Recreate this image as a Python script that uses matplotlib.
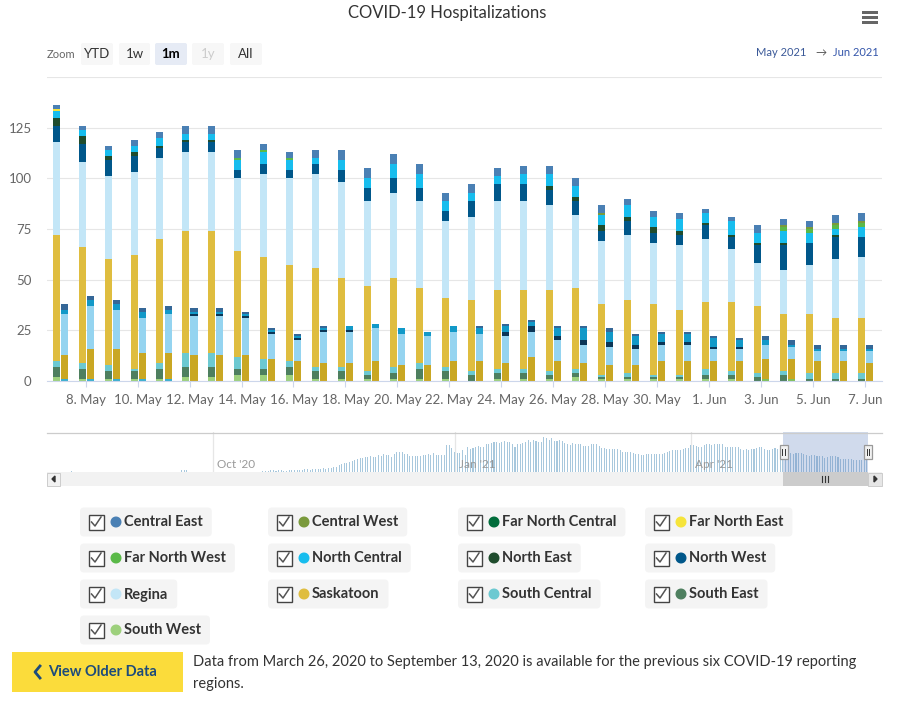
import numpy as np
import pandas as pd
import matplotlib
matplotlib.use('Agg')
import matplotlib.pyplot as plt
import matplotlib.dates as mdates
from matplotlib.patches import Rectangle, FancyBboxPatch, Circle, Polygon

plt.rcParams['font.family'] = ['Lato', 'DejaVu Sans']

# ---- data: 7 May 2021 .. 7 Jun 2021, inpatients (tall stack) and ICU (short stack)
days = pd.date_range('2021-05-07', '2021-06-07', freq='D')

central_east      = [2,2,2,3,3,4,4,4,3,3,4, 5,5,5,5,4,4,4,4,4,4,4, 3,3,3,2,2,4,3,3,4,4]
central_west      = [0,0,0,0,0,0,0,0,0,0,0, 0,0,0,0,0,0,0,0,0,0,1, 0,0,0,0,0,0,1,1,1,1]
far_north_central = [0,0,0,0,0,0,0,0,0,0,0, 0,0,0,0,0,0,0,0,0,0,0, 0,0,0,0,0,0,0,0,0,0]
far_north_east    = [1,0,0,0,0,0,0,0,0,0,0, 0,0,0,0,0,0,0,0,0,0,0, 0,0,0,0,0,0,0,0,0,0]
far_north_west    = [0,0,0,0,0,0,0,1,1,1,0, 0,0,0,0,0,0,0,0,0,0,0, 0,0,0,0,0,0,2,2,2,2]
north_central     = [3,3,3,3,4,3,3,5,6,5,3, 5,5,7,7,5,4,4,5,6,5,5, 6,5,6,5,7,5,6,5,3,5]
north_east        = [4,4,2,2,1,1,1,0,0,0,0, 0,0,0,0,0,0,0,0,2,2,3, 2,3,2,1,1,1,1,0,1,0]
north_west        = [8,9,8,8,5,5,5,4,5,4,5, 6,6,7,6,5,8,8,8,7,7,5, 7,5,5,7,6,9,12,11,11,10]
regina            = [46,42,41,41,40,39,39,36,41,43,46, 47,42,42,43,38,41,44,44,42,36,31, 32,30,32,31,26,21,22,24,29,30]
saskatoon         = [62,57,52,56,61,60,60,52,50,47,49, 44,42,44,37,34,35,39,39,40,40,35, 36,35,32,33,34,33,28,29,27,27]
south_central     = [3,3,3,1,3,7,7,6,5,3,2, 2,2,3,3,2,2,2,2,2,2,1, 2,1,1,3,2,2,2,3,3,3]
south_east        = [5,5,4,4,5,5,5,3,3,4,4, 4,2,3,5,4,3,3,3,2,2,1, 1,1,1,2,2,2,3,1,1,1]
south_west        = [2,1,1,1,1,2,2,3,3,3,1, 1,1,1,1,1,0,1,1,1,2,1, 1,1,1,1,1,0,0,0,0,0]

central_east_icu  = [3,2,2,2,2,2,2,1,1,1,1, 0,0,0,0,0,1,1,1,1,1,2, 1,1,1,1,1,2,2,2,2,2]
north_central_icu = [2,3,3,3,2,1,1,1,1,1,1, 2,2,3,2,3,3,3,2,4,6,5, 4,4,4,4,3,2,1,1,1,1]
north_west_icu    = [0,0,0,0,0,1,1,1,1,1,1, 1,0,0,0,0,0,2,3,2,2,2, 2,1,1,1,1,0,0,0,0,0]
regina_icu        = [20,21,19,17,19,19,19,18,12,10,15, 15,16,15,14,14,13,13,12,10,9,9, 8,8,8,6,6,7,6,5,5,6]
saskatoon_icu     = [12,15,15,13,13,13,13,13,11,10,9, 9,10,8,8,10,10,9,12,10,9,8, 8,10,10,10,10,10,10,10,10,9]
south_central_icu = [1,1,1,1,1,0,0,0,0,0,0, 0,0,0,0,0,0,0,0,0,0,0, 0,0,0,0,0,0,0,0,0,0]
south_west_icu    = [0,0,0,0,0,0,0,0,0,0,0, 0,0,0,0,0,0,0,0,0,0,0, 0,0,0,0,0,1,1,0,0,0]

regions = ['Central East', 'Central West', 'Far North Central', 'Far North East',
           'Far North West', 'North Central', 'North East', 'North West',
           'Regina', 'Saskatoon', 'South Central', 'South East', 'South West']
inpatient = [central_east, central_west, far_north_central, far_north_east,
             far_north_west, north_central, north_east, north_west,
             regina, saskatoon, south_central, south_east, south_west]
icu = {'Central East': central_east_icu, 'North Central': north_central_icu,
       'North West': north_west_icu, 'Regina': regina_icu,
       'Saskatoon': saskatoon_icu, 'South Central': south_central_icu,
       'South West': south_west_icu}

colors = ['#4a80b4', '#7a9a3c', '#006c3a', '#f6e43a', '#5ab948', '#17bdee',
          '#1f4c2d', '#00578a', '#c3e6f7', '#dfbd3f', '#6cc9d1', '#4e7f5f', '#9dd07c']
colors_icu = ['#356797', '#667f31', '#00552e', '#d6c42e', '#4a9c3b', '#1299c8',
              '#173a22', '#0b3657', '#95d4f0', '#c9a723', '#3aaed0', '#3e6a4e', '#7fbf5c']

# navigator: daily totals, older part
nav_sparse_dates = ['2020-08-08', '2020-09-19', '2020-09-20', '2020-09-21']
nav_sparse = [11, 17, 17, 17]
nav_before = [11,11,11,14,14,11,14,17,11,11,17,17,20,20,14,17,22,25,20,22,28,22,28,31,25,34,36,39,45,
              56,64,73,78,84,92,101,109,115,118, 123,126,132,126,126,140,137,148,143,143,
              126,148,165,165,165,151,151,134,134,134, 134,134,140,140,148,140,157,143,143,143,
              143,227,227,202,165,160,160,182,146,207, 196,199,207,216,210,210,235,235,244,249,
              249,241,249,258,255,255,235,210,235,235, 244,249,266,249,266,258,249,249,294,286,
              266,283,258,258,266,258,241,235,227,244, 235,235,235,216,216,216,235,235,235,216,
              202,
              202,196,190,190,196,190,182,168,168,165, 165,157,151,151,143,143,148,151,151,151,
              151,151,151,160,165,176,182,182,185,185, 190,199,199,227,227,216,210,207,227,232,
              235,227,235,235,232,235,210,210,207,207, 210,210,193,185,190,185,193,190,199,207,
              207,193,185,185,190,199,190,190,185]

W, H = 924, 703
fig = plt.figure(figsize=(W / 100, H / 100), dpi=100)


def px_axes(x0, y0, x1, y1):
    return fig.add_axes([x0 / W, 1 - y1 / H, (x1 - x0) / W, (y1 - y0) / H])


# ---- main stacked columns
ax = px_axes(47, 77, 882, 381)
ax.set_facecolor('none')
x = np.arange(len(days))
bot_in = np.zeros(len(days))
bot_icu = np.zeros(len(days))
for i in reversed(range(len(regions))):
    vals = np.array(inpatient[i], dtype=float)
    ax.bar(x - 0.14, vals, 0.27, bottom=bot_in, color=colors[i], linewidth=0, zorder=3)
    bot_in += vals
    if regions[i] in icu:
        v2 = np.array(icu[regions[i]], dtype=float)
        ax.bar(x + 0.17, v2, 0.27, bottom=bot_icu, color=colors_icu[i], linewidth=0, zorder=3)
        bot_icu += v2

ax.set_xlim(-0.49, 31.66)
ax.set_ylim(0, 150)
ax.set_yticks([0, 25, 50, 75, 100, 125, 150])
ax.set_yticklabels(['0', '25', '50', '75', '100', '125', ''])
ax.yaxis.grid(True, color='#e6e6e6', linewidth=0.8)
ax.set_axisbelow(True)
for s in ['top', 'right', 'left']:
    ax.spines[s].set_visible(False)
ax.spines['bottom'].set_color('#ccd6eb')
ax.spines['bottom'].set_zorder(4)
tick_pos = x[1::2]
ax.set_xticks(tick_pos)
ax.set_xticklabels([f"{d.day}. {d.strftime('%b')}" for d in days[1::2]])
ax.tick_params(axis='y', length=0, pad=11, labelsize=9.5, labelcolor='#666666')
ax.tick_params(axis='x', length=4, width=0.8, color='#ccd6eb', pad=5,
               labelsize=9.5, labelcolor='#666666')

# ---- navigator
nav = px_axes(47, 432, 868, 472)
nav.axis('off')
nav_lo = mdates.date2num(pd.Timestamp('2020-07-29 19:00'))
nav_hi = mdates.date2num(pd.Timestamp('2021-06-07 10:00'))
nav.set_xlim(nav_lo, nav_hi)
nav.set_ylim(0, 336)
sel_total = np.array(bot_in) + np.array(bot_icu)
before_dates = pd.date_range(end='2021-05-06', periods=len(nav_before), freq='D')
nav_x = np.concatenate([mdates.date2num(pd.to_datetime(nav_sparse_dates)),
                        mdates.date2num(before_dates), mdates.date2num(days)])
nav_y = np.concatenate([nav_sparse, nav_before, sel_total])
nav.bar(nav_x, nav_y, 0.4, color='#a8c8dd', linewidth=0, zorder=3)
for d, lab in [('2020-10-01', "Oct '20"), ('2021-01-01', "Jan '21"), ('2021-04-01', "Apr '21")]:
    dn = mdates.date2num(pd.Timestamp(d))
    nav.axvline(dn, color='#e6e6e6', linewidth=0.9, zorder=1)
    nav.text(dn + 1.6, 67, lab, fontsize=8.5, color='#999999', va='center', zorder=5)
nav.axvspan(mdates.date2num(pd.Timestamp('2021-05-06 03:00')), nav_hi,
            color='#6685c2', alpha=0.3, linewidth=0, zorder=4)

# ---- overlay for page furniture
ov = fig.add_axes([0, 0, 1, 1])
ov.set_xlim(0, W)
ov.set_ylim(H, 0)
ov.axis('off')

ov.text(447, 13, 'COVID-19 Hospitalizations', ha='center', va='center', fontsize=12, color='#333333')
for yy in [11, 16, 21]:
    ov.add_patch(Rectangle((862, yy), 16, 3, color='#666666', linewidth=0))

# range selector
ov.text(47, 54, 'Zoom', fontsize=8, color='#666666', va='center')
btns = [('YTD', 81, 113), ('1w', 119, 150), ('1m', 155, 187), ('1y', 192, 224), ('All', 230, 262)]
for lab, x0, x1 in btns:
    fc = '#e6ebf5' if lab == '1m' else '#f7f7f7'
    ov.add_patch(FancyBboxPatch((x0, 43), x1 - x0, 22, boxstyle='round,pad=0,rounding_size=2',
                                fc=fc, ec='none'))
    tc = '#cccccc' if lab == '1y' else ('#000000' if lab == '1m' else '#333333')
    ov.text((x0 + x1) / 2, 54.5, lab, ha='center', va='center', fontsize=9.5, color=tc,
            fontweight='bold' if lab == '1m' else 'normal')
ov.text(806, 53, 'May 2021', ha='right', va='center', fontsize=8, color='#3b5998')
ov.text(821, 53, '→', ha='center', va='center', fontsize=8, color='#555555')
ov.text(879, 53, 'Jun 2021', ha='right', va='center', fontsize=8, color='#3355aa')

# navigator outline, handles, scrollbar
ov.plot([47, 882], [432.5, 432.5], color='#cccccc', linewidth=0.9)
for hx in [783.5, 868]:
    ov.add_patch(Rectangle((hx - 4, 445), 8, 14, fc='#f2f2f2', ec='#999999', linewidth=0.9))
    ov.plot([hx - 1.2, hx - 1.2], [449, 455], color='#333333', linewidth=0.7)
    ov.plot([hx + 1.2, hx + 1.2], [449, 455], color='#333333', linewidth=0.7)
ov.add_patch(Rectangle((47, 472), 835, 14, fc='#f2f2f2', ec='none'))
ov.add_patch(Rectangle((47, 472.5), 13, 13, fc='#f2f2f2', ec='#cccccc', linewidth=0.7))
ov.add_patch(Rectangle((783, 472), 85, 14, fc='#cccccc', ec='none'))
ov.add_patch(Rectangle((868, 472.5), 14, 13, fc='#e6e6e6', ec='#cccccc', linewidth=0.7))
for gx in [822, 825, 828]:
    ov.plot([gx, gx], [476, 482], color='#333333', linewidth=0.8)
ov.add_patch(Polygon([[55, 476], [55, 482], [52, 479]], color='#333333'))
ov.add_patch(Polygon([[874, 476], [874, 482], [877, 479]], color='#333333'))

# legend
fig.canvas.draw()
renderer = fig.canvas.get_renderer()
col_x = [80, 268, 458, 645]
row_y = [522, 558, 594, 630]
for k, name in enumerate(regions):
    bx = col_x[k % 4]
    cy = row_y[k // 4]
    t = ov.text(bx + 44, cy + 0.5, name, fontsize=10.5, fontweight='bold', color='#333333',
                va='center', zorder=3)
    bb = t.get_window_extent(renderer)
    right = bb.x1 + 9
    ov.add_patch(FancyBboxPatch((bx, cy - 14.5), right - bx, 29,
                                boxstyle='round,pad=0,rounding_size=4',
                                fc='#f4f4f4', ec='none', zorder=1))
    ov.add_patch(Rectangle((bx + 8.5, cy - 7.5), 15, 15, fc='white', ec='#444444',
                           linewidth=1, zorder=2))
    ov.plot([bx + 11.5, bx + 15, bx + 21], [cy, cy + 4, cy - 5], color='#555555',
            linewidth=1.1, zorder=3)
    ov.add_patch(Circle((bx + 36, cy), 4.8, color=colors[k], zorder=3))

# older data button and note
ov.add_patch(Rectangle((12, 652), 171, 40, fc='#fbdc3b', ec='none'))
ov.plot([40, 35, 40], [666, 672, 678], color='#1d4b7b', linewidth=2)
ov.text(48, 672, 'View Older Data', fontsize=10.5, fontweight='bold', color='#1d4b7b', va='center')
ov.text(193, 662, 'Data from March 26, 2020 to September 13, 2020 is available for the '
        'previous six COVID-19 reporting', fontsize=10.5, color='#333333', va='center')
ov.text(193, 684, 'regions.', fontsize=10.5, color='#333333', va='center')

fig.savefig('out.png', dpi=100)
